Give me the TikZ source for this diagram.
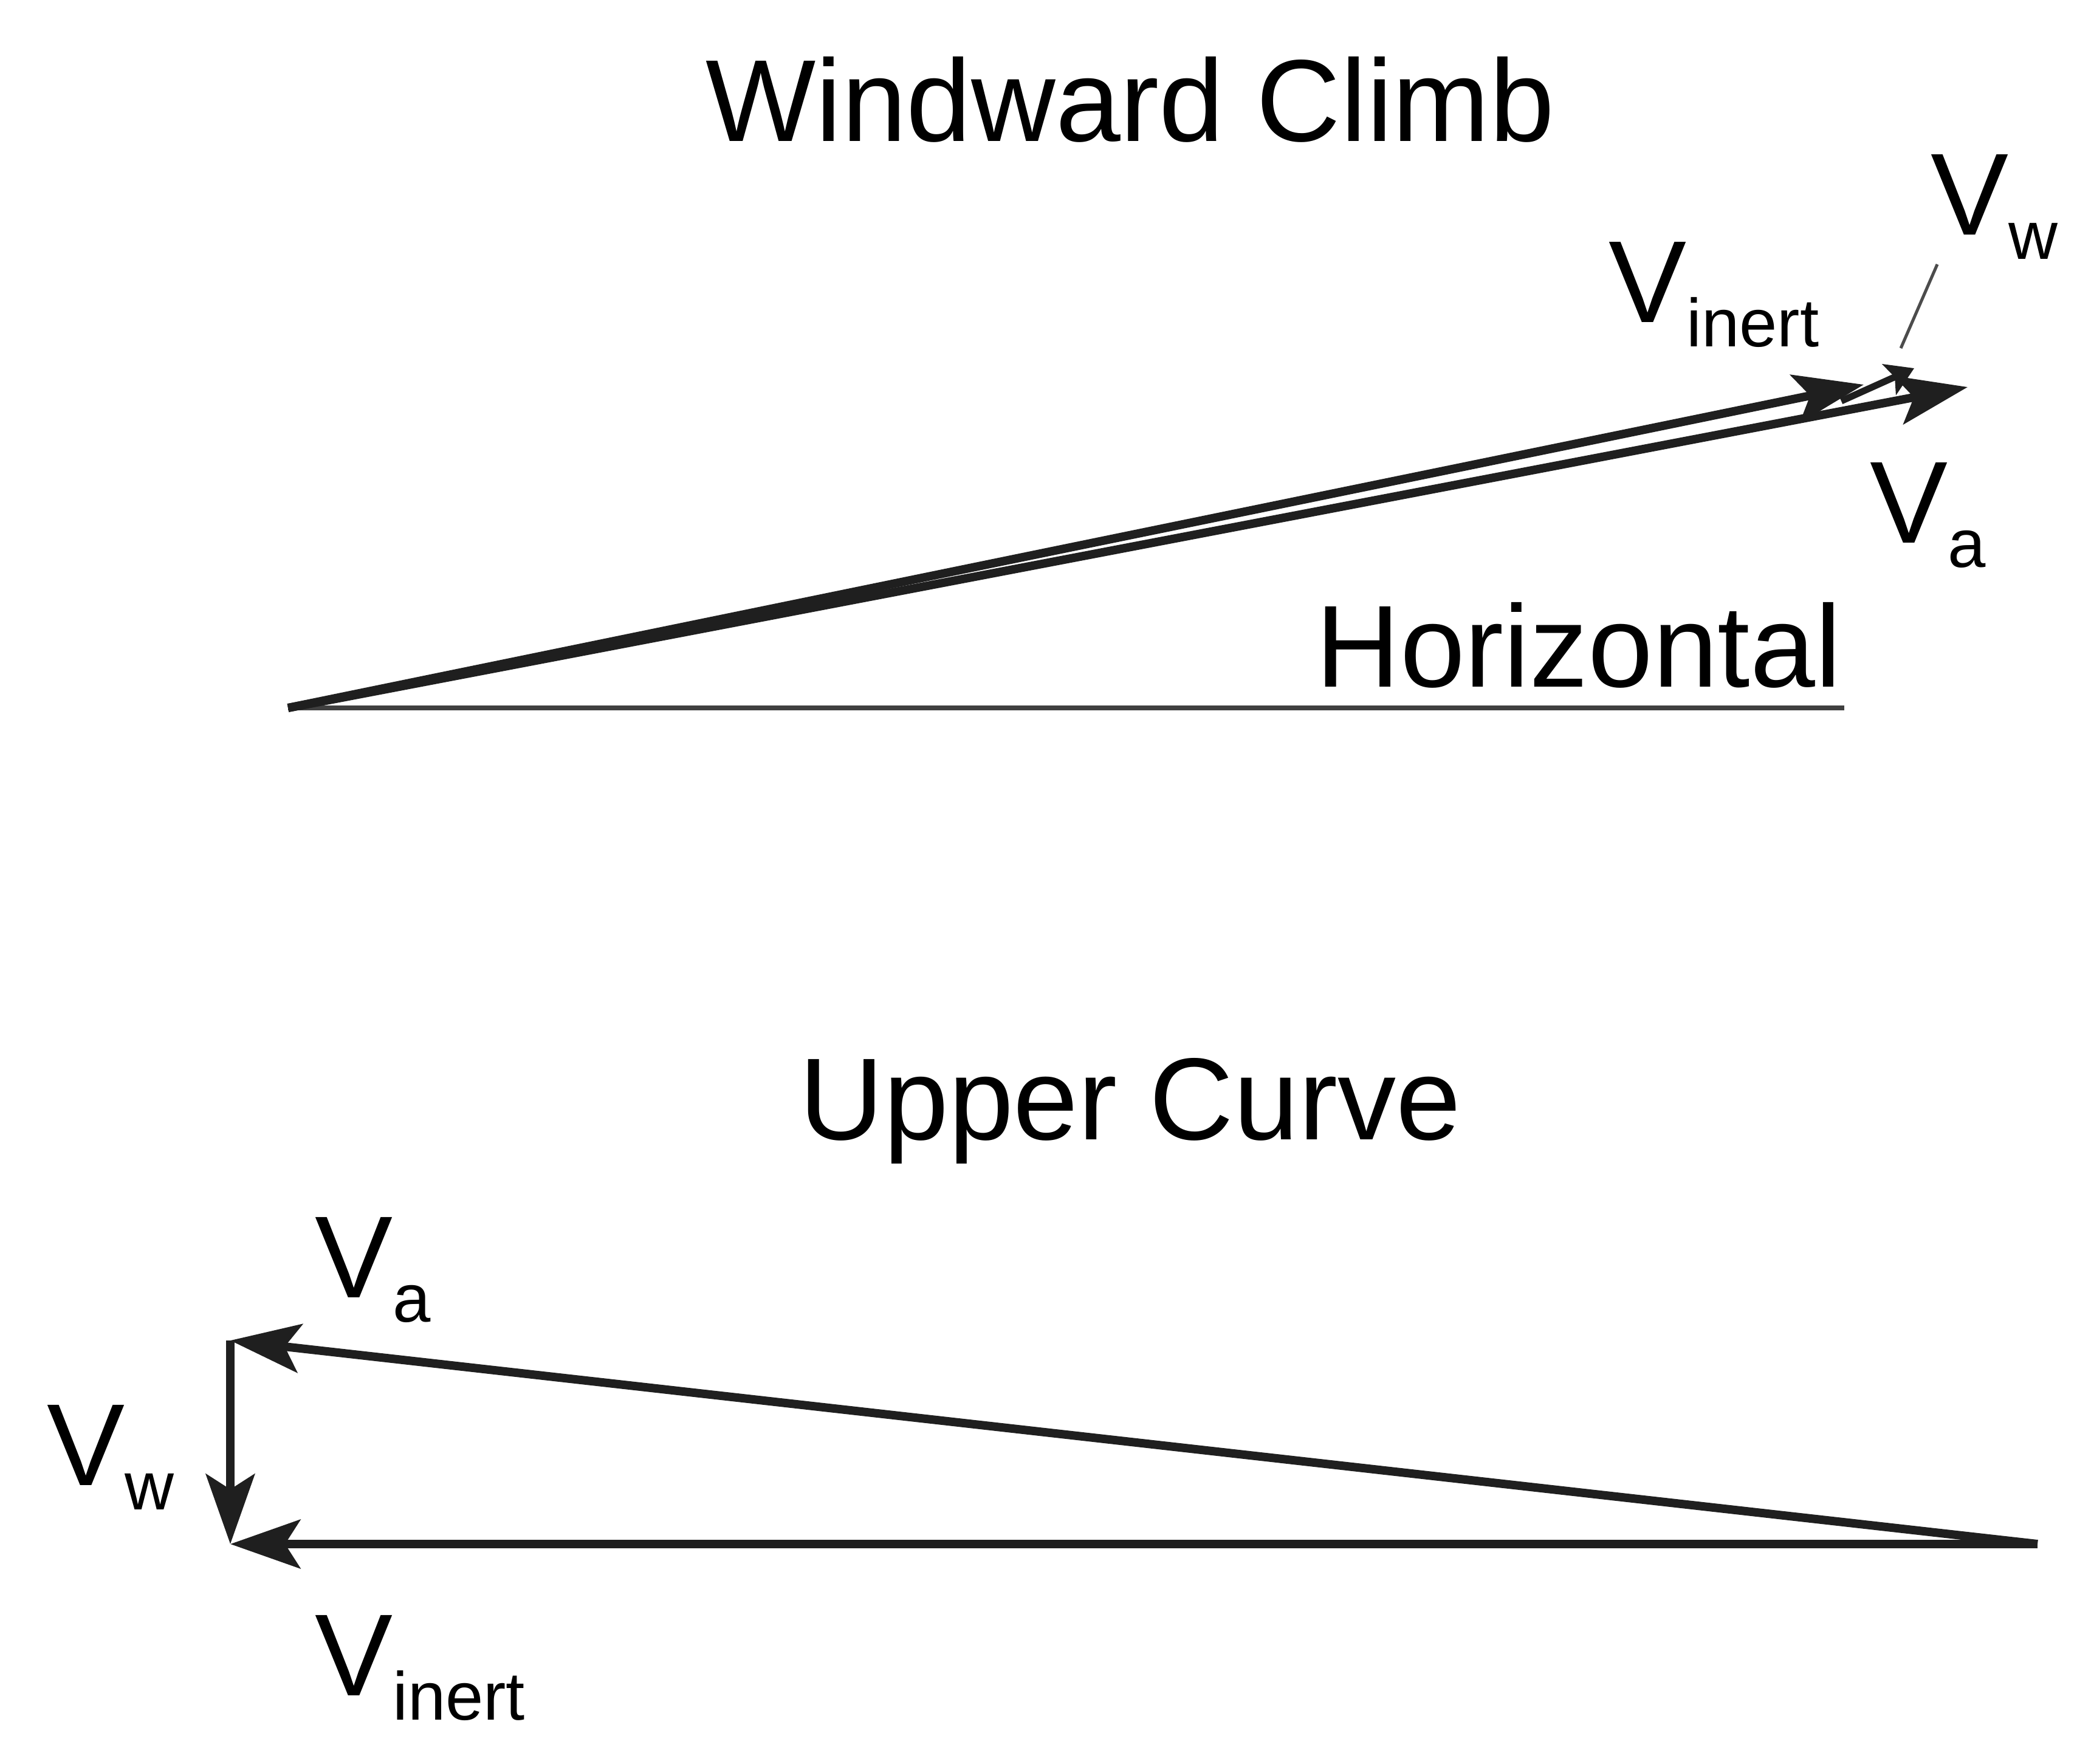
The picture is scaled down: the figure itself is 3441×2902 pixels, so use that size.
\documentclass[tikz,border=0pt]{standalone}
\usepackage{fontspec}
\setmainfont{Liberation Sans}
\usetikzlibrary{arrows.meta}
\begin{document}
\begin{tikzpicture}[x=1pt,y=-1pt,
  vec/.style={line width=14pt,color=black!88,-{Stealth[length=115pt,width=80pt,inset=25pt]}},
  big/.style={font=\fontsize{192}{210}\selectfont,inner sep=0pt},
  lab/.style={font=\fontsize{192}{210}\selectfont,inner sep=0pt,anchor=base west}]
\useasboundingbox (0,0) rectangle (3441,2902);
% Windward climb
\node[big,anchor=base] (t1) at (1860,232) {Windward Climb};
\coordinate (o) at (474,1165);
\coordinate (hi) at (3067,633);
\coordinate (ha) at (3238,637);
\coordinate (he) at (3035,1165);
\draw[line width=8pt,color=black!75] (o) -- (he);
\node[big,anchor=base east] (hz) at (3030,1130) {Horizontal};
\draw[vec] (o) -- (hi);
\draw[vec] (o) -- (ha);
\coordinate (w0) at (3030,660);
\coordinate (w1) at (3150,606);
\draw[line width=11pt,color=black!88,-{Stealth[length=45pt,width=55pt,inset=10pt]}] (w0) -- (w1);
\coordinate (l0) at (3128,573);
\coordinate (l1) at (3188,435);
\draw[line width=5pt,color=black!70] (l0) -- (l1);
\node[lab] (vi) at (2647,530) {V\raisebox{-40pt}{\fontsize{112}{120}\selectfont inert}};
\node[lab] (vw) at (3177,386) {V\raisebox{-40pt}{\fontsize{112}{120}\selectfont w}};
\node[lab] (va) at (3077,893) {V\raisebox{-40pt}{\fontsize{112}{120}\selectfont a}};
% Upper curve
\node[big,anchor=base] (t2) at (1860,1875) {Upper Curve};
\coordinate (s) at (3353,2541);
\coordinate (ti) at (379,2541);
\coordinate (ta) at (379,2206);
\draw[vec] (s) -- (ta);
\draw[vec] (s) -- (ti);
\draw[vec] (ta) -- (ti);
\node[lab] (va2) at (518,2135) {V\raisebox{-40pt}{\fontsize{112}{120}\selectfont a}};
\node[lab] (vw2) at (77,2444) {V\raisebox{-40pt}{\fontsize{112}{120}\selectfont w}};
\node[lab] (vi2) at (518,2790) {V\raisebox{-40pt}{\fontsize{112}{120}\selectfont inert}};
\end{tikzpicture}
\end{document}
